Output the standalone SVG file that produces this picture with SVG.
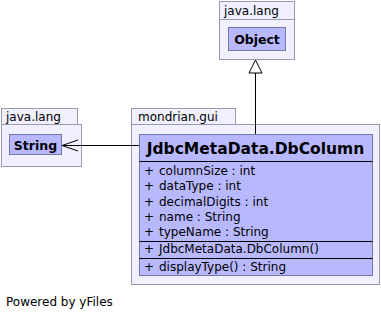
<svg xmlns="http://www.w3.org/2000/svg" width="381" height="319" viewBox="0 0 381 319">
  <style>
    .pkg { fill: #f0f0ff; stroke: #9999b3; stroke-width: 1; }
    .cls { fill: #b8b8ff; stroke: #7777a6; stroke-width: 1; }
    .sep { stroke: #000000; stroke-width: 1; }
    .t { font-family: "DejaVu Sans", sans-serif; fill: #000000; }
    .pl { font-size: 12px; }
    .cn { font-size: 12.5px; font-weight: bold; }
    .title { font-size: 15.5px; font-weight: bold; }
    .m { font-size: 12px; }
    .edge { stroke: #000000; stroke-width: 1; fill: none; }
  </style>
  <rect width="381" height="319" fill="#ffffff"/>

  <!-- java.lang package with Object -->
  <g id="pkg-object">
    <rect class="pkg" x="219.5" y="1.5" width="75" height="18"/>
    <rect class="pkg" x="219.5" y="19.5" width="75" height="40"/>
    <text class="t pl" x="224" y="15">java.lang</text>
    <g id="Object">
      <rect class="cls" x="228.5" y="27.5" width="57" height="23"/>
      <text class="t cn" x="257" y="44" text-anchor="middle">Object</text>
    </g>
  </g>

  <!-- java.lang package with String -->
  <g id="pkg-string">
    <rect class="pkg" x="1.5" y="108.5" width="76" height="16"/>
    <rect class="pkg" x="1.5" y="124.5" width="80" height="42"/>
    <text class="t pl" x="6" y="121">java.lang</text>
    <g id="String">
      <rect class="cls" x="9.5" y="134.5" width="52" height="20"/>
      <text class="t cn" x="35.5" y="149.5" text-anchor="middle">String</text>
    </g>
  </g>

  <!-- mondrian.gui package with JdbcMetaData.DbColumn -->
  <g id="pkg-mondrian">
    <rect class="pkg" x="131.5" y="108.5" width="104" height="16"/>
    <rect class="pkg" x="131.5" y="124.5" width="248" height="160"/>
    <text class="t pl" x="138" y="121">mondrian.gui</text>
    <g id="DbColumn">
      <rect class="cls" x="139.5" y="134.5" width="233" height="141"/>
      <text class="t title" x="255.5" y="153.5" text-anchor="middle">JdbcMetaData.DbColumn</text>
      <line class="sep" x1="139.5" y1="161.5" x2="372.5" y2="161.5"/>
      <g class="t m">
        <text x="144" y="174.5">+</text><text x="159" y="174.5">columnSize : int</text>
        <text x="144" y="190">+</text><text x="159" y="190">dataType : int</text>
        <text x="144" y="205.5">+</text><text x="159" y="205.5">decimalDigits : int</text>
        <text x="144" y="220.5">+</text><text x="159" y="220.5">name : String</text>
        <text x="144" y="236">+</text><text x="159" y="236">typeName : String</text>
      </g>
      <line class="sep" x1="139.5" y1="241.5" x2="372.5" y2="241.5"/>
      <g class="t m">
        <text x="144" y="253">+</text><text x="159" y="253">JdbcMetaData.DbColumn()</text>
      </g>
      <line class="sep" x1="139.5" y1="258.5" x2="372.5" y2="258.5"/>
      <g class="t m">
        <text x="144" y="270.5">+</text><text x="159" y="270.5">displayType() : String</text>
      </g>
    </g>
  </g>

  <!-- connectors -->
  <g id="edges">
    <!-- generalization to Object -->
    <line class="edge" x1="255.5" y1="134" x2="255.5" y2="73"/>
    <polygon points="255.5,60 249,73 262,73" fill="#ffffff" stroke="#000000" stroke-width="1"/>
    <!-- association to String -->
    <line class="edge" x1="139" y1="145.5" x2="62" y2="145.5"/>
    <polyline class="edge" points="78,140 62,145.5 78,151"/>
  </g>

  <text class="t" x="6" y="306" font-size="12px">Powered by yFiles</text>
</svg>
